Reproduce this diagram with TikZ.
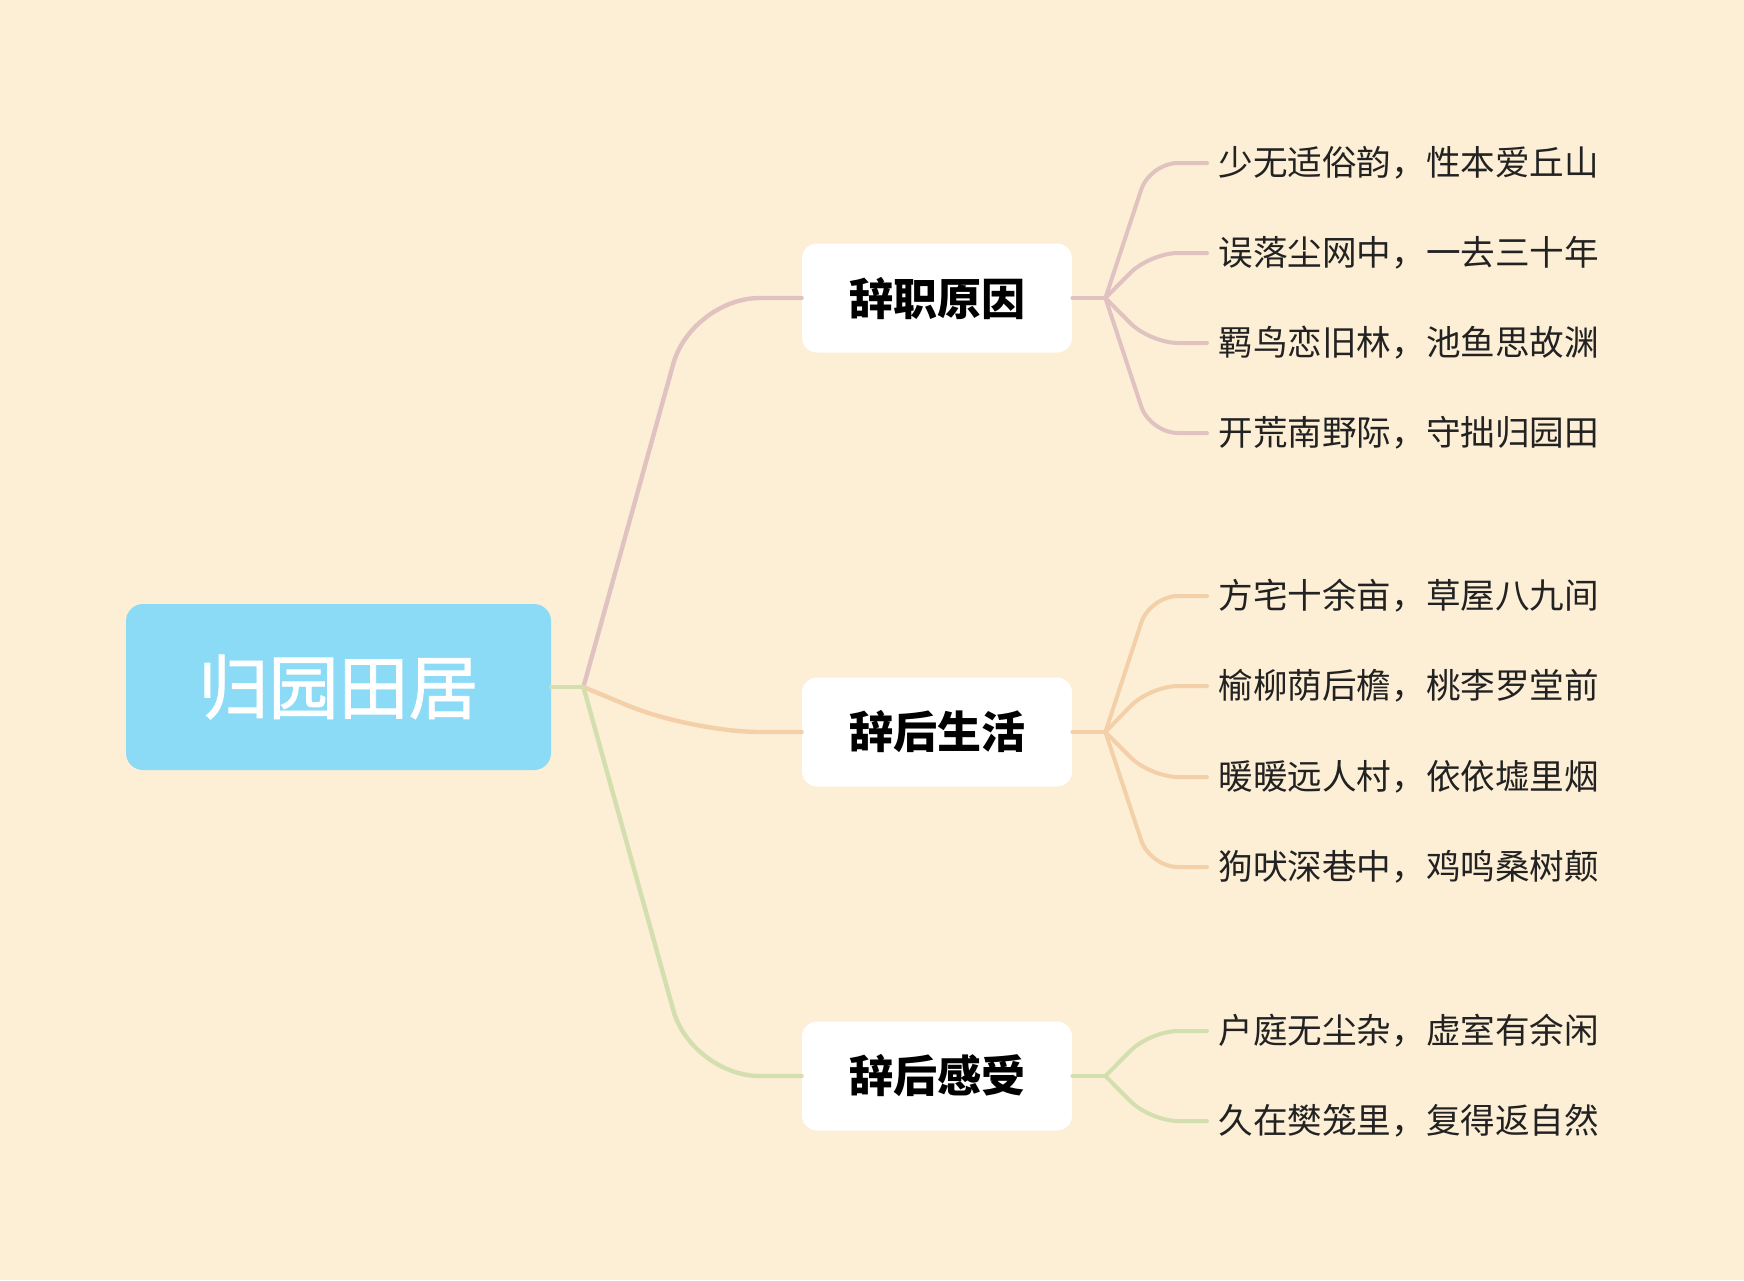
\documentclass[tikz,border=0pt]{standalone}
\usepackage{fontspec}
\newfontfamily\cjk{Noto Sans CJK SC}
\newfontfamily\cjkroot[FakeBold=1.2]{Noto Sans CJK SC}
\usetikzlibrary{calc}
\definecolor{paper}{HTML}{FDEED6}
\definecolor{rootblue}{HTML}{8BDBF7}
\definecolor{linepink}{HTML}{E0C2C0}
\definecolor{lineorange}{HTML}{F3D0A8}
\definecolor{linegreen}{HTML}{D4DFAF}
\definecolor{leafink}{HTML}{222222}

\begin{document}
\begin{tikzpicture}[x=0.5pt,y=-0.5pt,
	topic/.style={rounded corners=8.5pt, fill=rootblue, text=white, minimum width=212.5pt, minimum height=83pt, font=\cjkroot\fontsize{35pt}{40pt}\selectfont},
	sub/.style={rounded corners=7.5pt, fill=white, text=black, minimum width=135pt, minimum height=54.5pt, font=\cjk\bfseries\fontsize{22pt}{26pt}\selectfont},
	leaf/.style={anchor=west, inner sep=5.5pt, text=leafink, font=\cjk\fontsize{17.3pt}{20pt}\selectfont},
	conn/.style={line width=2.2pt, line cap=round, rounded corners=34pt},
	twig/.style={line width=2pt, line cap=round, rounded corners=14pt}]
	
	\fill[paper] (0,0) rectangle (1744,1280);
	\useasboundingbox (0,0) rectangle (1744,1280);
	
	% topic and subtopics
	\node[topic] (root) at (338.5,687) {归园田居};
	\node[sub] (b1) at (937,298) {辞职原因};
	\node[sub] (b2) at (937,732) {辞后生活};
	\node[sub] (b3) at (937,1076) {辞后感受};
	\coordinate (J) at ($(root.east)+(32,0)$);
	
	% leaves
	\node[leaf] (l11) at (1207,163) {少无适俗韵，性本爱丘山};
	\node[leaf] (l12) at (1207,253) {误落尘网中，一去三十年};
	\node[leaf] (l13) at (1207,343) {羁鸟恋旧林，池鱼思故渊};
	\node[leaf] (l14) at (1207,433) {开荒南野际，守拙归园田};
	\node[leaf] (l21) at (1207,596) {方宅十余亩，草屋八九间};
	\node[leaf] (l22) at (1207,686) {榆柳荫后檐，桃李罗堂前};
	\node[leaf] (l23) at (1207,777) {暖暖远人村，依依墟里烟};
	\node[leaf] (l24) at (1207,867) {狗吠深巷中，鸡鸣桑树颠};
	\node[leaf] (l31) at (1207,1031) {户庭无尘杂，虚室有余闲};
	\node[leaf] (l32) at (1207,1121) {久在樊笼里，复得返自然};
	
	% root connectors
	\draw[conn, linepink] (J) -- ($(b1.west)+(-110,0)$) -- (b1.west);
	\draw[conn, lineorange] (J) -- ($(b2.west)+(-110,0)$) -- (b2.west);
	\draw[conn, linegreen] (J) -- ($(b3.west)+(-110,0)$) -- (b3.west);
	\draw[conn, linegreen] (root.east) -- (J);
	
	% fans
	\coordinate (F1) at ($(b1.east)+(33,0)$);
	\coordinate (F2) at ($(b2.east)+(33,0)$);
	\coordinate (F3) at ($(b3.east)+(33,0)$);
	\draw[twig, linepink] (b1.east) -- (F1);
	\draw[twig, linepink] (F1) -- ($(l11.west)+(-57,0)$) -- (l11.west);
	\draw[twig, linepink] (F1) -- ($(l12.west)+(-57,0)$) -- (l12.west);
	\draw[twig, linepink] (F1) -- ($(l13.west)+(-57,0)$) -- (l13.west);
	\draw[twig, linepink] (F1) -- ($(l14.west)+(-57,0)$) -- (l14.west);
	\draw[twig, lineorange] (b2.east) -- (F2);
	\draw[twig, lineorange] (F2) -- ($(l21.west)+(-57,0)$) -- (l21.west);
	\draw[twig, lineorange] (F2) -- ($(l22.west)+(-57,0)$) -- (l22.west);
	\draw[twig, lineorange] (F2) -- ($(l23.west)+(-57,0)$) -- (l23.west);
	\draw[twig, lineorange] (F2) -- ($(l24.west)+(-57,0)$) -- (l24.west);
	\draw[twig, linegreen] (b3.east) -- (F3);
	\draw[twig, linegreen] (F3) -- ($(l31.west)+(-57,0)$) -- (l31.west);
	\draw[twig, linegreen] (F3) -- ($(l32.west)+(-57,0)$) -- (l32.west);
\end{tikzpicture}
\end{document}
